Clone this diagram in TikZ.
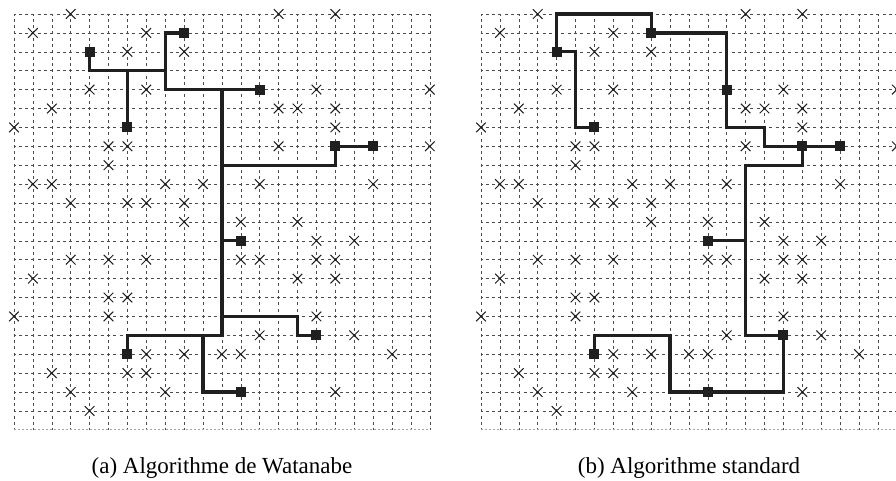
\documentclass[tikz,border=0pt]{standalone}
\usepackage{fontspec}
\setmainfont{Liberation Serif}
\usetikzlibrary{shapes.misc}
\definecolor{gridc}{gray}{0.3}
\definecolor{ink}{gray}{0.12}
\tikzset{
  gridline/.style={draw=gridc, line width=0.5pt, dash pattern=on 3pt off 3.3pt, dash phase=1.5pt},
  lastline/.style={draw=gray!70, line width=0.9pt, dash pattern=on 2pt off 2pt},
  obst/.style={cross out, draw=ink, line width=1pt, minimum size=8.6pt, inner sep=0pt},
  term/.style={rectangle, fill=ink, minimum size=10pt, inner sep=0pt},
  wire/.style={draw=ink, line width=3.2pt, line cap=rect, line join=miter},
  caption/.style={font=\fontsize{23}{27}\selectfont, anchor=base, inner sep=0pt}
}
\newcommand\drawfield[1]{%
  \foreach \i in {0,...,22} {\draw[gridline] (\i,0) -- (\i,22);}
  \foreach \i in {0,...,21} {\draw[gridline] (0,\i) -- (22,\i);}
  \draw[lastline] (0,22) -- (22,22);
  \foreach \r/\cols in {0/{3,14,17}, 1/{1,7}, 2/{6,9}, 4/{4,7,16,22},
      5/{2,14,15,17}, 6/{0,17}, 7/{5,6,14,22}, 8/{5}, 9/{1,2,8,10,13,19},
      10/{3,6,7,9}, 11/{9,12,15}, 12/{16,18}, 13/{3,5,7,12,13,16,17},
      14/{1,15,17}, 15/{5,6}, 16/{0,5,16}, 17/{13,18}, 18/{7,9,11,12,20},
      19/{2,6,7}, 20/{3,8,17}, 21/{4}}
    {\foreach \c in \cols {\node[obst] (#1o\c-\r) at (\c,\r) {};}}
  \foreach \n/\c/\r in {1/9/1, 2/4/2, 3/6/6, 4/13/4, 5/17/7, 6/19/7,
      7/12/12, 8/16/17, 9/6/18, 10/12/20}
    {\node[term] (#1t\n) at (\c,\r) {};}
}
\begin{document}
\begin{tikzpicture}[x=1pt, y=-1pt]
\useasboundingbox (0,0) rectangle (896,480);
\clip (0,0) rectangle (896,480);
% (a) Watanabe
\begin{scope}[shift={(14,14)}, x=18.9pt, y=-18.9pt]
  \drawfield{a}
  \coordinate (as1) at (8,3);
  \coordinate (as2) at (6,3);
  \coordinate (as3) at (8,4);
  \coordinate (as4) at (11,4);
  \coordinate (as5) at (11,17);
  \coordinate (as6) at (11,8);
  \coordinate (as7) at (11,12);
  \coordinate (as8) at (11,16);
  \coordinate (as9) at (15,17);
  \coordinate (as10) at (10,17);
  \draw[wire] (at2) |- (as1);
  \draw[wire] (as2) -- (at3);
  \draw[wire] (at1) -| (as3) -- (at4);
  \draw[wire] (as4) -- (as5) -| (at9);
  \draw[wire] (as6) -| (at5) -- (at6);
  \draw[wire] (as7) -- (at7);
  \draw[wire] (as8) -| (as9) -- (at8);
  \draw[wire] (as10) |- (at10);
\end{scope}
% (b) standard
\begin{scope}[shift={(481,14)}, x=18.9pt, y=-18.9pt]
  \drawfield{b}
  \coordinate (bs1) at (9,0);
  \coordinate (bs2) at (5,6);
  \coordinate (bs3) at (13,6);
  \coordinate (bs4) at (15,7);
  \coordinate (bs5) at (14,8);
  \coordinate (bs6) at (14,12);
  \coordinate (bs7) at (10,20);
  \coordinate (bs8) at (6,17);
  \draw[wire] (bt2) |- (bs1) -- (bt1);
  \draw[wire] (bt2) -| (bs2) -- (bt3);
  \draw[wire] (bt1) -| (bs3) -| (bs4) -- (bt6);
  \draw[wire] (bt5) |- (bs5) |- (bt8);
  \draw[wire] (bt7) -- (bs6);
  \draw[wire] (bt8) |- (bs7) |- (bs8) -- (bt9);
\end{scope}
\node[caption] (capa) at (222,473) {(a) Algorithme de Watanabe};
\node[caption] (capb) at (689,473) {(b) Algorithme standard};
\end{tikzpicture}
\end{document}
